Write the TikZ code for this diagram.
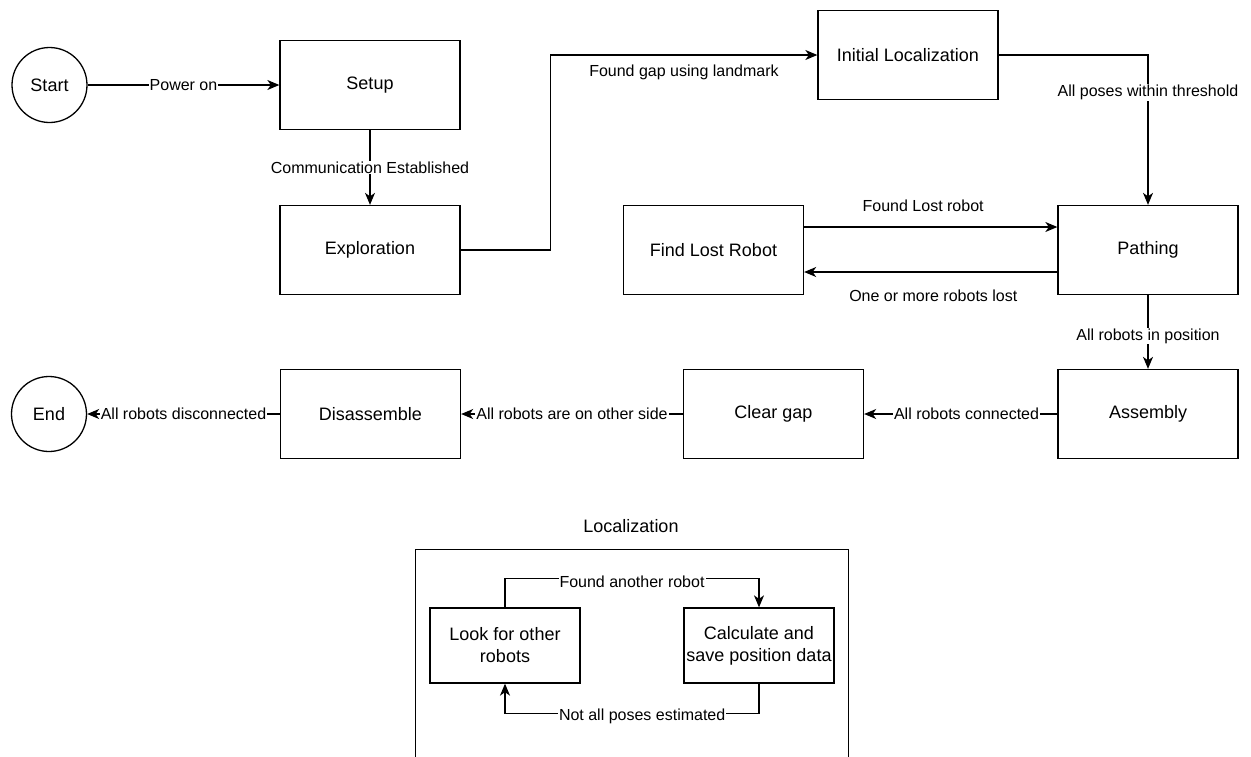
\documentclass[tikz,border=0pt]{standalone}
\usepackage{fontspec}
\setmainfont{Liberation Sans}
\usetikzlibrary{arrows.meta,positioning,calc}
\tikzset{
  box/.style={draw, line width=1.3pt, minimum width=180pt, minimum height=89pt, inner sep=0pt,
    font=\fontsize{18}{22}\selectfont},
  smallbox/.style={draw, line width=1.3pt, minimum width=150pt, minimum height=75pt, inner sep=0pt,
    align=center, font=\fontsize{18}{22}\selectfont},
  state/.style={draw, circle, line width=1.3pt, minimum size=75pt, inner sep=0pt,
    font=\fontsize{18}{22}\selectfont},
  lbl/.style={font=\fontsize{16}{19}\selectfont, fill=white, inner sep=1pt},
  freelbl/.style={font=\fontsize{16}{19}\selectfont, inner sep=1pt},
  arr/.style={-{Stealth[length=12pt,width=10pt,inset=3.5pt]}, line width=1.3pt},
  plain/.style={line width=1.3pt},
}
\begin{document}
\begin{tikzpicture}[x=1pt,y=-1pt]
\useasboundingbox (0,0) rectangle (1251,756);

% main flow
\node[state] (start) at (49.5,85) {Start};
\node[box] (setup) at (370,85) {Setup};
\node[box] (expl) at (370,250) {Exploration};
\node[box] (init) at (908,55) {Initial Localization};
\node[box] (path) at (1148,250) {Pathing};
\node[box] (flr) at (713.5,250) {Find Lost Robot};
\node[box] (asm) at (1148,414) {Assembly};
\node[box] (clr) at (773.5,414) {Clear gap};
\node[box] (dis) at (370.5,414) {Disassemble};
\node[state] (end) at (49,414) {End};

\draw[arr] (start) -- (setup) node[lbl, midway] {Power on};
\draw[arr] (setup) -- (expl) node[lbl, midway] {Communication Established};
\draw[arr] (expl.east) -- ++(90,0) |- (init.west)
  node[freelbl, pos=0.75, yshift=-17pt] {Found gap using landmark};
\draw[arr] (init.east) -| (path.north)
  node[lbl, pos=0.625] {All poses within threshold};
\draw[arr] ([yshift=23pt]flr.east) -- ([yshift=23pt]path.west)
  node[freelbl, pos=0.47, yshift=21pt] {Found Lost robot};
\draw[arr] ([yshift=-22pt]path.west) -- ([yshift=-22pt]flr.east)
  node[freelbl, pos=0.49, yshift=-24pt] {One or more robots lost};
\draw[arr] (path) -- (asm) node[lbl, midway, yshift=-4pt] {All robots in position};
\draw[arr] (asm) -- (clr) node[lbl, pos=0.47] {All robots connected};
\draw[arr] (clr) -- (dis) node[lbl, midway] {All robots are on other side};
\draw[arr] (dis) -- (end) node[lbl, midway] {All robots disconnected};

% localization sub-diagram
\node[font=\fontsize{18}{22}\selectfont] (loctitle) at (631,526) {Localization};
\begin{scope}
  \clip (0,0) rectangle (1251,756);
  \node[draw, line width=1.3pt, minimum width=433pt, minimum height=260pt, anchor=north west, inner sep=0pt] (locbox) at (415,549) {};
\end{scope}
\node[smallbox] (look) at (505,645.5) {Look for other\\robots};
\node[smallbox] (calc) at (759,645.5) {Calculate and\\save position data};

\draw[arr] (look.north) -- ++(0,-29) -| (calc.north)
  node[lbl, pos=0.25, yshift=-3pt] {Found another robot};
\draw[arr] (calc.south) -- ++(0,30) -| (look.south)
  node[lbl, pos=0.23, yshift=-3pt] {Not all poses estimated};
\end{tikzpicture}
\end{document}
